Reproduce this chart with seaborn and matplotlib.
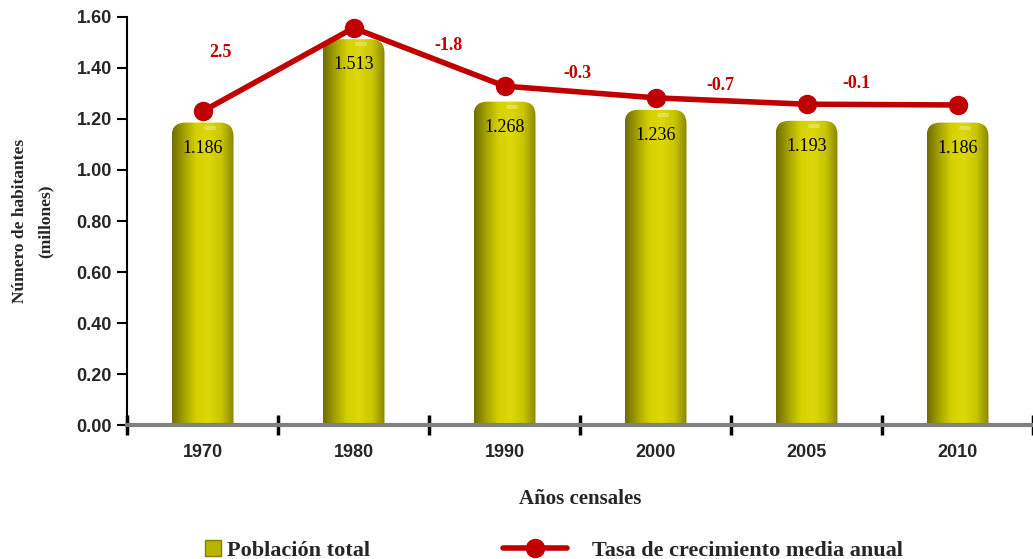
import numpy as np
import pandas as pd
import matplotlib
matplotlib.use("Agg")
import matplotlib.pyplot as plt
import seaborn as sns
from matplotlib.patches import FancyBboxPatch
from matplotlib.lines import Line2D
from matplotlib.colors import LinearSegmentedColormap

years = ["1970", "1980", "1990", "2000", "2005", "2010"]
poblacion = [1.186, 1.513, 1.268, 1.236, 1.193, 1.186]
# red line as drawn on the primary scale
linea = [1.23, 1.557, 1.329, 1.283, 1.258, 1.255]
tasas = ["2.5", "-1.8", "-0.3", "-0.7", "-0.1"]
tasa_x = [0.12, 1.63, 2.48, 3.43, 4.33]
tasa_y = [1.46, 1.49, 1.38, 1.33, 1.34]

df = pd.DataFrame({"year": years, "pob": poblacion})

sns.set_theme(style="white")
plt.rcParams["font.family"] = ["Liberation Serif", "DejaVu Serif"]

fig = plt.figure(figsize=(10.33, 5.59), dpi=100)
ax = fig.add_axes([0.123, 0.2397, 0.877, 0.7299])

bar_w = 0.41
sns.barplot(data=df, x="year", y="pob", ax=ax, color="#c8c400", width=bar_w,
            saturation=1, zorder=2)

# cylinder look: horizontal gradient clipped to rounded boxes
cyl = LinearSegmentedColormap.from_list(
    "cyl", ["#6e6c00", "#a6a300", "#d6d200", "#dcd80a", "#c9c500", "#8a8700"])
grad = np.linspace(0, 1, 256).reshape(1, -1)
aspect = (1.6 / 408) / (1 / 152.6)
for p in ax.patches:
    x0 = p.get_x()
    w = p.get_width()
    h = p.get_height()
    p.set_visible(False)
    box = FancyBboxPatch((x0, -0.1), w, h + 0.1,
                         boxstyle="round,pad=0,rounding_size=0.09",
                         mutation_aspect=aspect, transform=ax.transData,
                         facecolor="none", edgecolor="none")
    ax.add_patch(box)
    im = ax.imshow(grad, cmap=cyl, extent=[x0, x0 + w, 0, h], aspect="auto",
                   zorder=2, interpolation="bicubic")
    im.set_clip_path(box)
    ax.plot([x0 + w * 0.55, x0 + w * 0.68], [h - 0.02, h - 0.02],
            color="#eeec90", lw=3, alpha=0.5, solid_capstyle="round", zorder=3)
ax.set_xlim(-0.5, 5.434)
ax.set_ylim(0, 1.6)

for i, v in enumerate(poblacion):
    ax.text(i, v - 0.1, f"{v:.3f}", ha="center", va="center", fontsize=13,
            color="black", zorder=5)

ax.plot(range(len(years)), linea, color="#c00000", lw=4, marker="o",
        markersize=13, zorder=4, solid_capstyle="round")
for t, tx, ty in zip(tasas, tasa_x, tasa_y):
    ax.text(tx, ty, t, ha="center", va="center", fontsize=13,
            fontweight="bold", color="#c00000", zorder=5)

# axes styling
for s in ["top", "right"]:
    ax.spines[s].set_visible(False)
ax.spines["left"].set_color("black")
ax.spines["left"].set_linewidth(1.5)
ax.spines["bottom"].set_color("#808080")
ax.spines["bottom"].set_linewidth(3)
ax.set_yticks(np.arange(0, 1.61, 0.2))
ax.set_yticklabels([f"{v:.2f}" for v in np.arange(0, 1.61, 0.2)],
                   fontsize=13, fontweight="bold", family="Liberation Sans")
ax.tick_params(axis="y", direction="out", length=7, width=1.5, color="black",
               left=True, pad=4)
ax.set_xticks(range(len(years)))
ax.set_xticklabels(years, fontsize=13, fontweight="bold", family="Liberation Sans")
ax.tick_params(axis="x", which="major", length=0, pad=14)
ax.set_xticks(np.arange(-0.5, 5.6, 1), minor=True)
ax.tick_params(axis="x", which="minor", direction="inout", length=14, width=2.5,
               color="black", bottom=True)

ax.set_xlabel("Años censales", fontsize=15, fontweight="bold", labelpad=20)
ax.set_ylabel("Número de habitantes\n(millones)", fontsize=12.5, fontweight="bold",
              labelpad=16, linespacing=1.8)

leg_font = {"family": "Liberation Serif", "weight": "bold", "size": 16}
h1 = Line2D([], [], marker="s", color="none", markerfacecolor="#b8b400",
            markeredgecolor="#808000", markersize=11)
h2 = Line2D([], [], color="#c00000", lw=4, marker="o", markersize=13)
l1 = fig.legend([h1], ["Población total"], loc="center left",
                bbox_to_anchor=(0.185, 0.015), frameon=False, prop=leg_font,
                handlelength=1.0, handletextpad=0.1, borderpad=0)
l2 = fig.legend([h2], ["Tasa de crecimiento media anual"], loc="center left",
                bbox_to_anchor=(0.476, 0.015), frameon=False, prop=leg_font,
                handlelength=2.9, handletextpad=1.1, borderpad=0)

fig.savefig("out.png", dpi=100)
